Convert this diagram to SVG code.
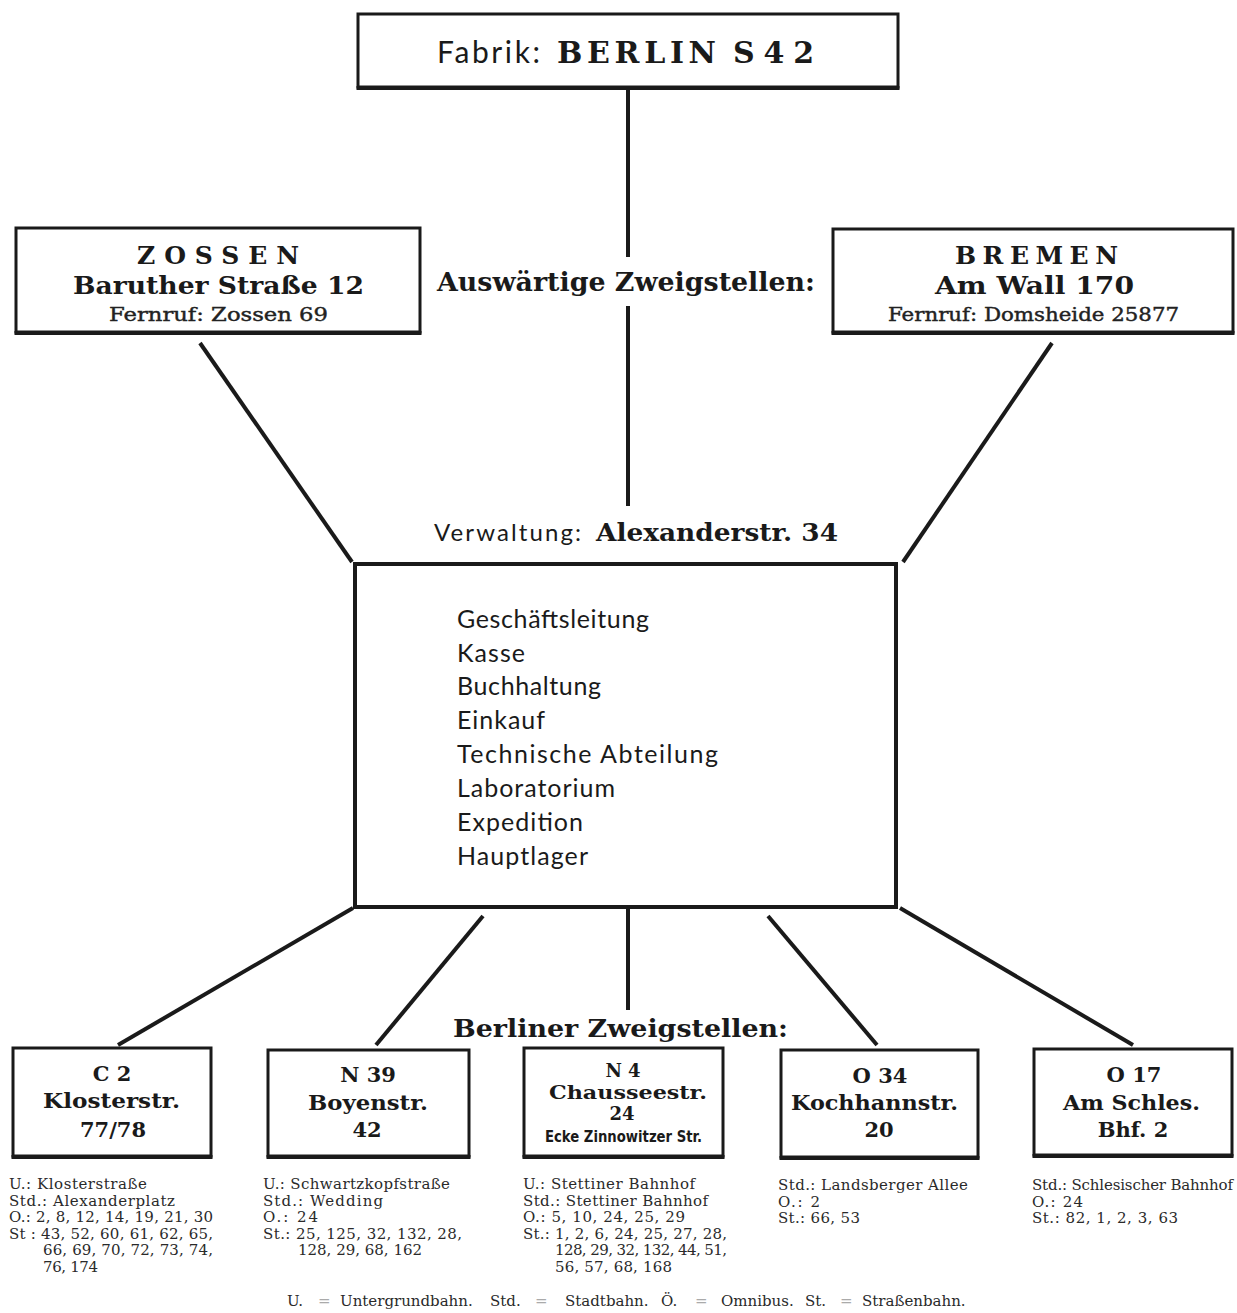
<svg xmlns="http://www.w3.org/2000/svg" width="1237" height="1313" viewBox="0 0 1237 1313">
<style>
.bx{fill:none;stroke:#1a1a1a;stroke-width:3}
.bb{stroke:#1a1a1a;stroke-width:4}
.ln{stroke:#1a1a1a;stroke-width:4;stroke-linecap:butt;fill:none}
.b{font-family:"DejaVu Serif",serif;font-weight:bold;fill:#1a1a1a}
.r{font-family:"DejaVu Serif",serif;fill:#222}
.s{font-family:"Lato","Liberation Sans",sans-serif;fill:#1a1a1a}
.sm{font-family:"DejaVu Serif",serif;font-size:15px;fill:#2a2a2a}
.c{text-anchor:middle}
.eq{fill:#aaa}
</style>
<rect width="1237" height="1313" fill="#fff"/>
<g id="connectors">
<line class="ln" x1="628" y1="88" x2="628" y2="257"/>
<line class="ln" x1="628" y1="306" x2="628" y2="506"/>
<line class="ln" x1="200" y1="343" x2="352" y2="562"/>
<line class="ln" x1="1052" y1="343" x2="903" y2="562"/>
<line class="ln" x1="353" y1="908" x2="118" y2="1045"/>
<line class="ln" x1="483" y1="916" x2="376" y2="1045"/>
<line class="ln" x1="628" y1="909" x2="628" y2="1010"/>
<line class="ln" x1="768" y1="916" x2="877" y2="1045"/>
<line class="ln" x1="900" y1="908" x2="1133" y2="1045"/>
</g>
<g id="fabrik">
<rect class="bx" x="358" y="14" width="540" height="73"/>
<line class="bb" x1="356.5" y1="88" x2="899.5" y2="88"/>
<text class="s" x="437" y="63" font-size="30" textLength="103">Fabrik:</text>
<text class="b" x="557" y="63" font-size="30" textLength="159">BERLIN</text>
<text class="b" x="733" y="63" font-size="30" textLength="81">S42</text>
</g>
<g id="zossen">
<rect class="bx" x="16" y="228" width="404" height="104"/>
<line class="bb" x1="14.5" y1="333" x2="421.5" y2="333"/>
<text class="b" x="137" y="264" font-size="25" textLength="162">ZOSSEN</text>
<text class="b" x="73" y="294" font-size="24" textLength="291" lengthAdjust="spacingAndGlyphs">Baruther Straße 12</text>
<text class="r" x="109" y="321" font-size="18" textLength="219" lengthAdjust="spacingAndGlyphs" stroke="#222" stroke-width="0.4">Fernruf: Zossen 69</text>
</g>
<g id="auswaertig">
<text class="b" x="437" y="291" font-size="26" textLength="378" lengthAdjust="spacingAndGlyphs">Auswärtige Zweigstellen:</text>
</g>
<g id="bremen">
<rect class="bx" x="833" y="229" width="400" height="103"/>
<line class="bb" x1="831.5" y1="333" x2="1234.5" y2="333"/>
<text class="b" x="955" y="264" font-size="25" textLength="163">BREMEN</text>
<text class="b" x="935" y="294" font-size="24" textLength="199" lengthAdjust="spacingAndGlyphs">Am Wall 170</text>
<text class="r" x="888" y="321" font-size="18" textLength="291" lengthAdjust="spacingAndGlyphs" stroke="#222" stroke-width="0.4">Fernruf: Domsheide 25877</text>
</g>
<g id="verwaltung">
<text class="s" x="434" y="541" font-size="24" textLength="147">Verwaltung:</text>
<text class="b" x="596" y="541" font-size="25" textLength="242" lengthAdjust="spacingAndGlyphs">Alexanderstr. 34</text>
<rect x="355" y="564" width="541" height="343" fill="none" stroke="#1a1a1a" stroke-width="4"/>
<text class="s" x="457" y="628" font-size="25" textLength="192">Geschäftsleitung</text>
<text class="s" x="457" y="662" font-size="25" textLength="68">Kasse</text>
<text class="s" x="457" y="695" font-size="25" textLength="144">Buchhaltung</text>
<text class="s" x="457" y="729" font-size="25" textLength="88">Einkauf</text>
<text class="s" x="457" y="763" font-size="25" textLength="261">Technische Abteilung</text>
<text class="s" x="457" y="797" font-size="25" textLength="158">Laboratorium</text>
<text class="s" x="457" y="831" font-size="25" textLength="126">Expedition</text>
<text class="s" x="457" y="865" font-size="25" textLength="131">Hauptlager</text>
</g>
<g id="berliner">
<text class="b" x="453" y="1037" font-size="24" textLength="335" lengthAdjust="spacingAndGlyphs">Berliner Zweigstellen:</text>
</g>
<g id="c2">
<rect class="bx" x="13" y="1048" width="198" height="108"/>
<line class="bb" x1="11.5" y1="1157" x2="212.5" y2="1157"/>
<text class="b c" x="112" y="1081" font-size="21">C 2</text>
<text class="b" x="43" y="1108" font-size="21" textLength="137" lengthAdjust="spacingAndGlyphs">Klosterstr.</text>
<text class="b c" x="113" y="1137" font-size="21">77/78</text>
<text class="sm" x="9" y="1189" textLength="138">U.: Klosterstraße</text>
<text class="sm" x="9" y="1205.5" textLength="166">Std.: Alexanderplatz</text>
<text class="sm" x="9" y="1222" textLength="204">O.: 2, 8, 12, 14, 19, 21, 30</text>
<text class="sm" x="9" y="1238.5" textLength="204">St : 43, 52, 60, 61, 62, 65,</text>
<text class="sm" x="43" y="1255" textLength="170">66, 69, 70, 72, 73, 74,</text>
<text class="sm" x="43" y="1271.5" textLength="55">76, 174</text>
</g>
<g id="n39">
<rect class="bx" x="268" y="1050" width="201" height="106"/>
<line class="bb" x1="266.5" y1="1157" x2="470.5" y2="1157"/>
<text class="b c" x="368" y="1082" font-size="21">N 39</text>
<text class="b" x="308" y="1110" font-size="21" textLength="120" lengthAdjust="spacingAndGlyphs">Boyenstr.</text>
<text class="b c" x="367" y="1137" font-size="21">42</text>
<text class="sm" x="263" y="1189" textLength="187">U.: Schwartzkopfstraße</text>
<text class="sm" x="263" y="1205.5" textLength="120">Std.: Wedding</text>
<text class="sm" x="263" y="1222" textLength="55">O.: 24</text>
<text class="sm" x="263" y="1238.5" textLength="199">St.: 25, 125, 32, 132, 28,</text>
<text class="sm" x="298" y="1255" textLength="124">128, 29, 68, 162</text>
</g>
<g id="n4">
<rect class="bx" x="524" y="1048" width="199" height="108"/>
<line class="bb" x1="522.5" y1="1157" x2="724.5" y2="1157"/>
<text class="b c" x="623" y="1077" font-size="18">N 4</text>
<text class="b" x="549" y="1099" font-size="18" textLength="158" lengthAdjust="spacingAndGlyphs">Chausseestr.</text>
<text class="b c" x="622" y="1120" font-size="18">24</text>
<text x="545" y="1142" font-family="DejaVu Sans Condensed, DejaVu Sans, sans-serif" font-stretch="condensed" font-weight="bold" font-size="15" fill="#1a1a1a" textLength="157" lengthAdjust="spacingAndGlyphs">Ecke Zinnowitzer Str.</text>
<text class="sm" x="523" y="1189" textLength="172">U.: Stettiner Bahnhof</text>
<text class="sm" x="523" y="1205.5" textLength="185">Std.: Stettiner Bahnhof</text>
<text class="sm" x="523" y="1222" textLength="162">O.: 5, 10, 24, 25, 29</text>
<text class="sm" x="523" y="1238.5" textLength="204">St.: 1, 2, 6, 24, 25, 27, 28,</text>
<text class="sm" x="555" y="1255" textLength="172">128, 29, 32, 132, 44, 51,</text>
<text class="sm" x="555" y="1271.5" textLength="117">56, 57, 68, 168</text>
</g>
<g id="o34">
<rect class="bx" x="781" y="1050" width="197" height="107"/>
<line class="bb" x1="779.5" y1="1158" x2="979.5" y2="1158"/>
<text class="b c" x="880" y="1083" font-size="21">O 34</text>
<text class="b" x="791" y="1110" font-size="21" textLength="167" lengthAdjust="spacingAndGlyphs">Kochhannstr.</text>
<text class="b c" x="879" y="1137" font-size="21">20</text>
<text class="sm" x="778" y="1190" textLength="190">Std.: Landsberger Allee</text>
<text class="sm" x="778" y="1206.5" textLength="42">O.: 2</text>
<text class="sm" x="778" y="1223" textLength="82">St.: 66, 53</text>
</g>
<g id="o17">
<rect class="bx" x="1034" y="1049" width="198" height="106"/>
<line class="bb" x1="1032.5" y1="1156" x2="1233.5" y2="1156"/>
<text class="b c" x="1134" y="1082" font-size="21">O 17</text>
<text class="b" x="1063" y="1110" font-size="21" textLength="137" lengthAdjust="spacingAndGlyphs">Am Schles.</text>
<text class="b c" x="1133" y="1137" font-size="21">Bhf. 2</text>
<text class="sm" x="1032" y="1190" textLength="201">Std.: Schlesischer Bahnhof</text>
<text class="sm" x="1032" y="1206.5" textLength="51">O.: 24</text>
<text class="sm" x="1032" y="1223" textLength="146">St.: 82, 1, 2, 3, 63</text>
</g>
<g id="legend">
<text class="sm" y="1306"><tspan x="287">U.</tspan><tspan class="eq" x="318">=</tspan><tspan x="340">Untergrundbahn.</tspan><tspan x="490">Std.</tspan><tspan class="eq" x="535">=</tspan><tspan x="565">Stadtbahn.</tspan><tspan x="661">Ö.</tspan><tspan class="eq" x="695">=</tspan><tspan x="721">Omnibus.</tspan><tspan x="805">St.</tspan><tspan class="eq" x="840">=</tspan><tspan x="862">Straßenbahn.</tspan></text>
</g>
</svg>
